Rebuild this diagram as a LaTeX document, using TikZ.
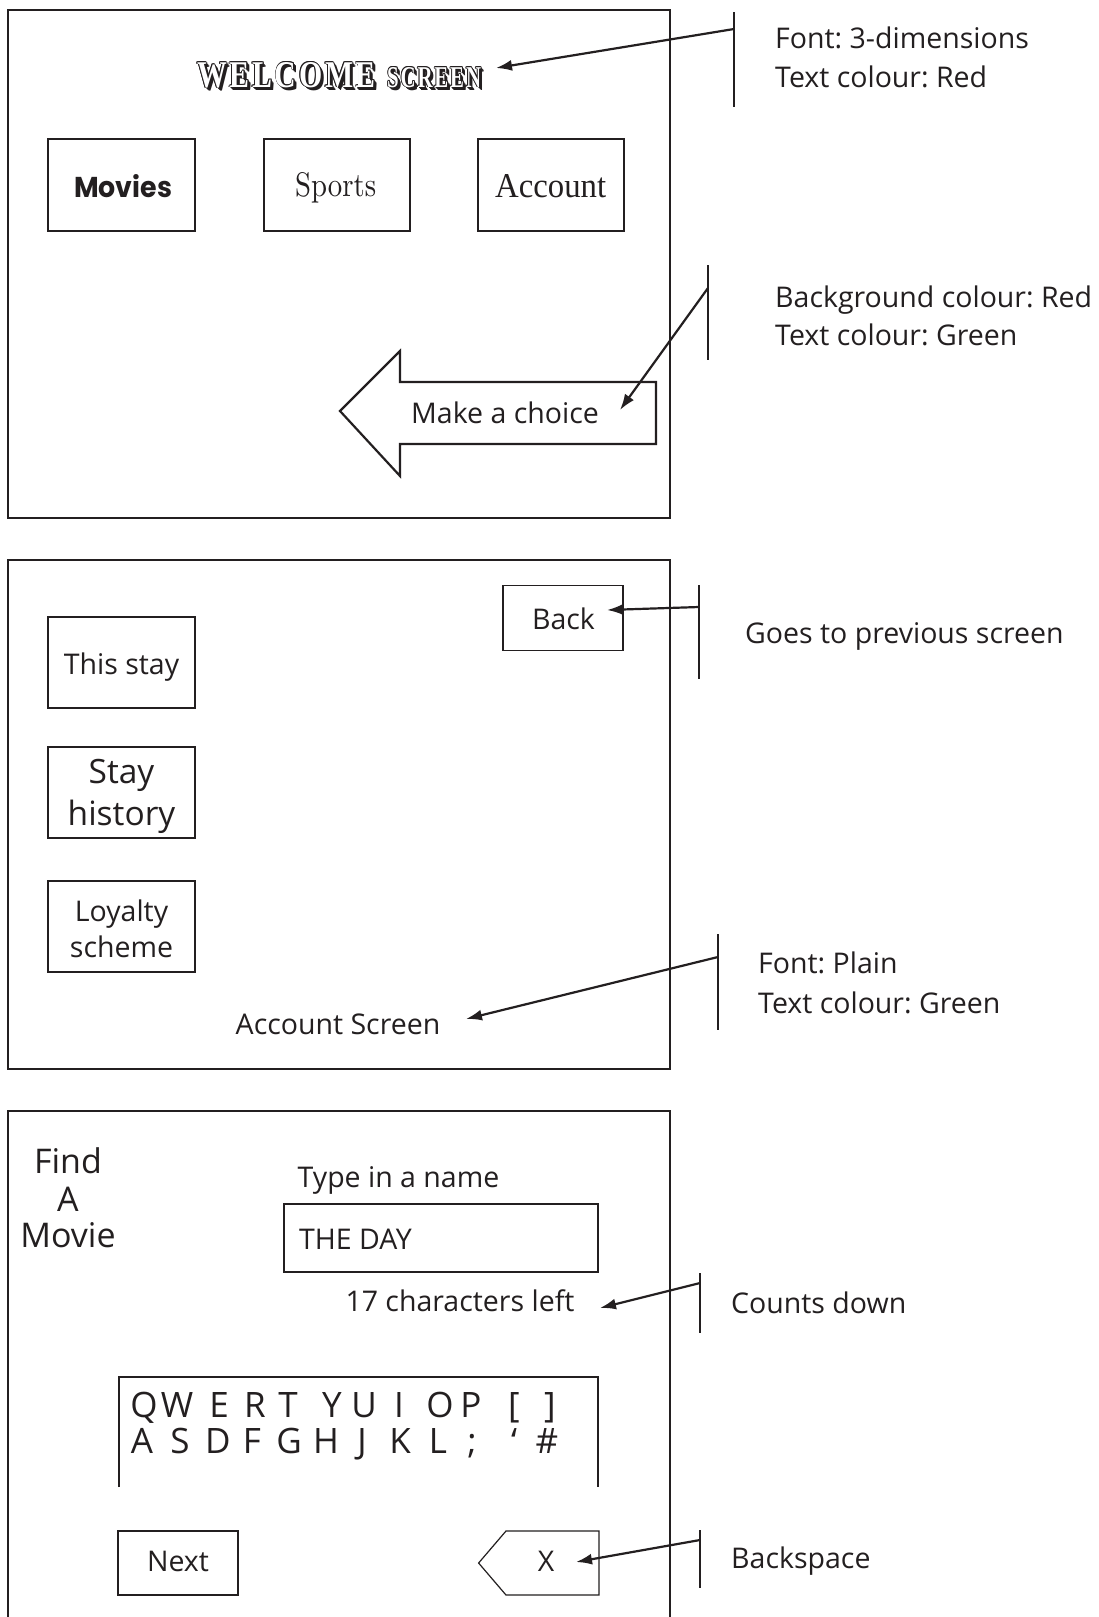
\documentclass[tikz,border=0pt]{standalone}
\usepackage{fontspec}
\usepackage{graphicx}
\setmainfont{Open Sans}
\newfontfamily\serifb{Liberation Serif}[LetterSpace=9]
\newfontfamily\serifa{Liberation Serif}
\newfontfamily\moviesf{Poppins}
\usetikzlibrary{arrows.meta}
\definecolor{ink}{HTML}{231F20}
\frenchspacing
\newcommand{\wordW}{\resizebox{176pt}{25pt}{\serifb\bfseries WELCOME\kern-0.09em}}
\newcommand{\wordS}{\resizebox{92pt}{20pt}{\serifb\bfseries SCREEN\kern-0.09em}}
\newcommand{\shcopy}[3]{\rlap{\hspace*{#1}\raisebox{#2}{#3}}}
\newcommand{\threeD}[1]{%
  \shcopy{0.5pt}{-0.5pt}{#1}\shcopy{1pt}{-1pt}{#1}\shcopy{1.5pt}{-1.5pt}{#1}%
  \shcopy{2pt}{-2pt}{#1}\shcopy{2.5pt}{-2.5pt}{#1}\shcopy{3pt}{-3pt}{#1}%
  \shcopy{-0.9pt}{0pt}{#1}\shcopy{0.9pt}{0pt}{#1}\shcopy{0pt}{0.9pt}{#1}%
  \shcopy{0pt}{-0.9pt}{#1}\shcopy{-0.7pt}{0.7pt}{#1}\shcopy{0.7pt}{0.7pt}{#1}%
  \shcopy{-0.7pt}{-0.7pt}{#1}\shcopy{0.7pt}{-0.7pt}{#1}%
  \textcolor{white}{#1}}
\tikzset{
  frame/.style={draw=ink, line width=2.2pt},
  btn/.style={draw=ink, line width=1.2pt, inner sep=0pt},
  txt/.style={inner sep=0pt, text=ink, anchor=base, font=\fontsize{28.5}{34}\selectfont},
  big/.style={txt, font=\fontsize{33.5}{40}\selectfont},
  find/.style={txt, font=\fontsize{34}{40}\selectfont},
  kb/.style={txt, font=\fontsize{35}{42}\selectfont},
  note/.style={txt, anchor=base west},
  tick/.style={draw=ink, line width=2.2pt},
  ptr/.style={draw=ink, line width=2.2pt, -{Latex[length=16pt,width=11pt]}},
  wa/.style={inner sep=0pt, anchor=base west, text=ink},
}
\begin{document}
\begin{tikzpicture}[x=1pt,y=-1pt]
\useasboundingbox (0,0) rectangle (1099,1617);
\fill[white] (0,0) rectangle (1099,1617);

% ===== Screen 1 =====
\draw[frame] (8,10) rectangle (670,518);
\node[wa] (welcome) at (197,87) {\threeD{\wordW}};
\node[wa] (screen) at (387,87) {\threeD{\wordS}};

\node[btn, minimum width=147pt, minimum height=92pt] (bMovies) at (121.5,185) {};
\node[btn, minimum width=146pt, minimum height=92pt] (bSports) at (337,185) {};
\node[btn, minimum width=146pt, minimum height=92pt] (bAccount) at (551,185) {};
\node[wa] (tMovies) at (74,197) {\resizebox{98pt}{23pt}{\moviesf\bfseries Movies}};
\node[wa] (tSports) at (295,196) {\resizebox{81pt}{24pt}{\fontspec{Latin Modern Roman}Sports}};
\node[wa] (tAccount) at (495,197) {\resizebox{111pt}{23pt}{\serifa Account}};

\draw[frame] (340,411) -- (400,351) -- (400,382) -- (656,382) -- (656,444)
  -- (400,444) -- (400,476) -- cycle;
\node[txt] (choice) at (505,423) {Make a choice};

% annotations screen 1
\draw[tick] (734,12) -- (734,107);
\coordinate (a1s) at (734,29);
\coordinate (a1e) at (496,68);
\draw[ptr] (a1s) -- (a1e);
\node[note] (n1a) at (775,48) {Font: 3-dimensions};
\node[note] (n1b) at (775,87) {Text colour: Red};

\draw[tick] (708,265) -- (708,360);
\coordinate (a2s) at (708,288);
\coordinate (a2e) at (620,410);
\draw[ptr] (a2s) -- (a2e);
\node[note] (n2a) at (775,307) {Background colour: Red};
\node[note] (n2b) at (775,345) {Text colour: Green};

% ===== Screen 2 =====
\draw[frame] (8,560) rectangle (670,1069);
\node[btn, minimum width=120pt, minimum height=64.5pt] (bBack) at (563,618) {};
\node[txt] (tBack) at (563.5,629) {Back};
\node[btn, minimum width=147pt, minimum height=91pt] (bThis) at (121.5,662.5) {};
\node[txt] (tThis) at (121.5,674) {This stay};
\node[btn, minimum width=147pt, minimum height=91pt] (bHist) at (121.5,792.5) {};
\node[big] (tHist1) at (121.5,783) {Stay};
\node[big] (tHist2) at (121.5,825) {history};
\node[btn, minimum width=147pt, minimum height=91pt] (bLoy) at (121.5,926.5) {};
\node[txt] (tLoy1) at (121.5,921) {Loyalty};
\node[txt] (tLoy2) at (121.5,957) {scheme};
\node[txt] (tAccScr) at (338,1034) {Account Screen};

\draw[tick] (699,585) -- (699,679);
\coordinate (a3s) at (699,607);
\coordinate (a3e) at (607,610);
\draw[ptr] (a3s) -- (a3e);
\node[note] (n3) at (745,643) {Goes to previous screen};

\draw[tick] (718,934) -- (718,1030);
\coordinate (a4s) at (718,957);
\coordinate (a4e) at (466,1019);
\draw[ptr] (a4s) -- (a4e);
\node[note] (n4a) at (758,973) {Font: Plain};
\node[note] (n4b) at (758,1013) {Text colour: Green};

% ===== Screen 3 =====
\draw[frame] (8,1617) -- (8,1111) -- (670,1111) -- (670,1617);
\node[find] (find1) at (68,1173) {Find};
\node[find] (find2) at (68,1211) {A};
\node[find] (find3) at (68,1247) {Movie};
\node[txt] (typein) at (398.5,1187) {Type in a name};
\node[btn, minimum width=314pt, minimum height=68pt] (bName) at (441,1238) {};
\node[note] (tName) at (299,1249) {THE DAY};
\node[txt] (left) at (460,1311) {17 characters left};

\draw[btn] (119,1487) -- (119,1377) -- (598,1377) -- (598,1487);
\node[kb] (kQ) at (144,1417) {Q};
\node[kb] (kW) at (177,1417) {W};
\node[kb] (kE) at (219,1417) {E};
\node[kb] (kR) at (255,1417) {R};
\node[kb] (kT) at (288,1417) {T};
\node[kb] (kY) at (332,1417) {Y};
\node[kb] (kU) at (364,1417) {U};
\node[kb] (kI) at (399,1417) {I};
\node[kb] (kO) at (440,1417) {O};
\node[kb] (kP) at (471,1417) {P};
\node[kb] (kLB) at (514,1417) {[};
\node[kb] (kRB) at (550,1417) {]};
\node[kb] (kA) at (142,1453) {A};
\node[kb] (kS) at (180,1453) {S};
\node[kb] (kD) at (218,1453) {D};
\node[kb] (kF) at (252,1453) {F};
\node[kb] (kG) at (289,1453) {G};
\node[kb] (kH) at (326,1453) {H};
\node[kb] (kJ) at (362,1453) {J};
\node[kb] (kK) at (400,1453) {K};
\node[kb] (kL) at (438,1453) {L};
\node[kb] (kSC) at (472,1453) {;};
\node[kb] (kQT) at (514,1453) {‘};
\node[kb] (kHS) at (547,1453) {\#};

\node[btn, minimum width=120pt, minimum height=64pt] (bNext) at (178,1563) {};
\node[txt] (tNext) at (178,1571) {Next};
\draw[btn] (478.6,1563) -- (506,1531) -- (599,1531) -- (599,1595) -- (506,1595) -- cycle;
\node[txt] (tX) at (546,1571) {X};

\draw[tick] (700,1273) -- (700,1333);
\coordinate (a5s) at (700,1283);
\coordinate (a5e) at (600,1308);
\draw[ptr] (a5s) -- (a5e);
\node[note] (n5) at (731,1313) {Counts down};

\draw[tick] (700,1530) -- (700,1588);
\coordinate (a6s) at (700,1540);
\coordinate (a6e) at (576,1562);
\draw[ptr] (a6s) -- (a6e);
\node[note] (n6) at (731,1568) {Backspace};
\end{tikzpicture}
\end{document}
